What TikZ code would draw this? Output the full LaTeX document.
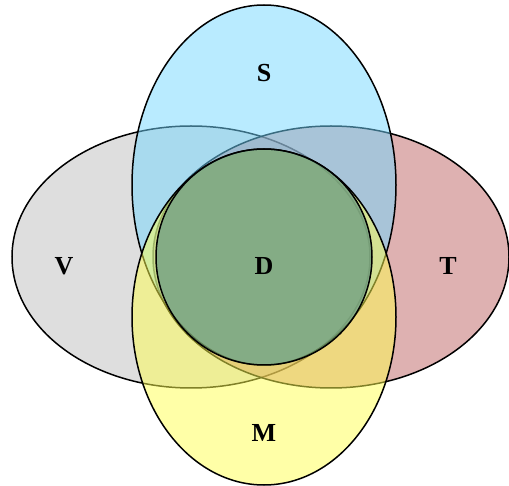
\documentclass[tikz,border=0pt]{standalone}
\usepackage{fontspec}
\setmainfont{Liberation Serif}
\usetikzlibrary{shapes.geometric}
\definecolor{vC}{RGB}{189,189,189}
\definecolor{tC}{RGB}{190,100,100}
\definecolor{sC}{RGB}{115,215,255}
\definecolor{mC}{RGB}{255,255,80}
\definecolor{dC}{RGB}{60,125,125}
\begin{document}
\begin{tikzpicture}[x=1pt,y=-1pt,
  setshape/.style={ellipse, draw=black, line width=1.5pt, inner sep=0pt, outer sep=0pt, fill opacity=0.5, draw opacity=1},
  lbl/.style={font=\bfseries\fontsize{26}{26}\selectfont, text=black, inner sep=0pt}]
\useasboundingbox (0,0) rectangle (509,486);
\node[setshape, fill=vC, minimum width=358pt, minimum height=262pt] (V) at (191,257) {};
\node[setshape, fill=tC, minimum width=356pt, minimum height=262pt] (T) at (331,257) {};
\node[setshape, fill=sC, minimum width=264pt, minimum height=360pt] (S) at (264,185) {};
\node[setshape, fill=mC, minimum width=264pt, minimum height=336pt] (M) at (264,317) {};
\node[setshape, circle, fill=dC, minimum size=216pt] (D) at (264,257) {};
\node[lbl] (lS) at (264,73) {S};
\node[lbl] (lV) at (64,266) {V};
\node[lbl] (lT) at (448,266) {T};
\node[lbl] (lD) at (264,266) {D};
\node[lbl] (lM) at (264,433) {M};
\end{tikzpicture}
\end{document}
